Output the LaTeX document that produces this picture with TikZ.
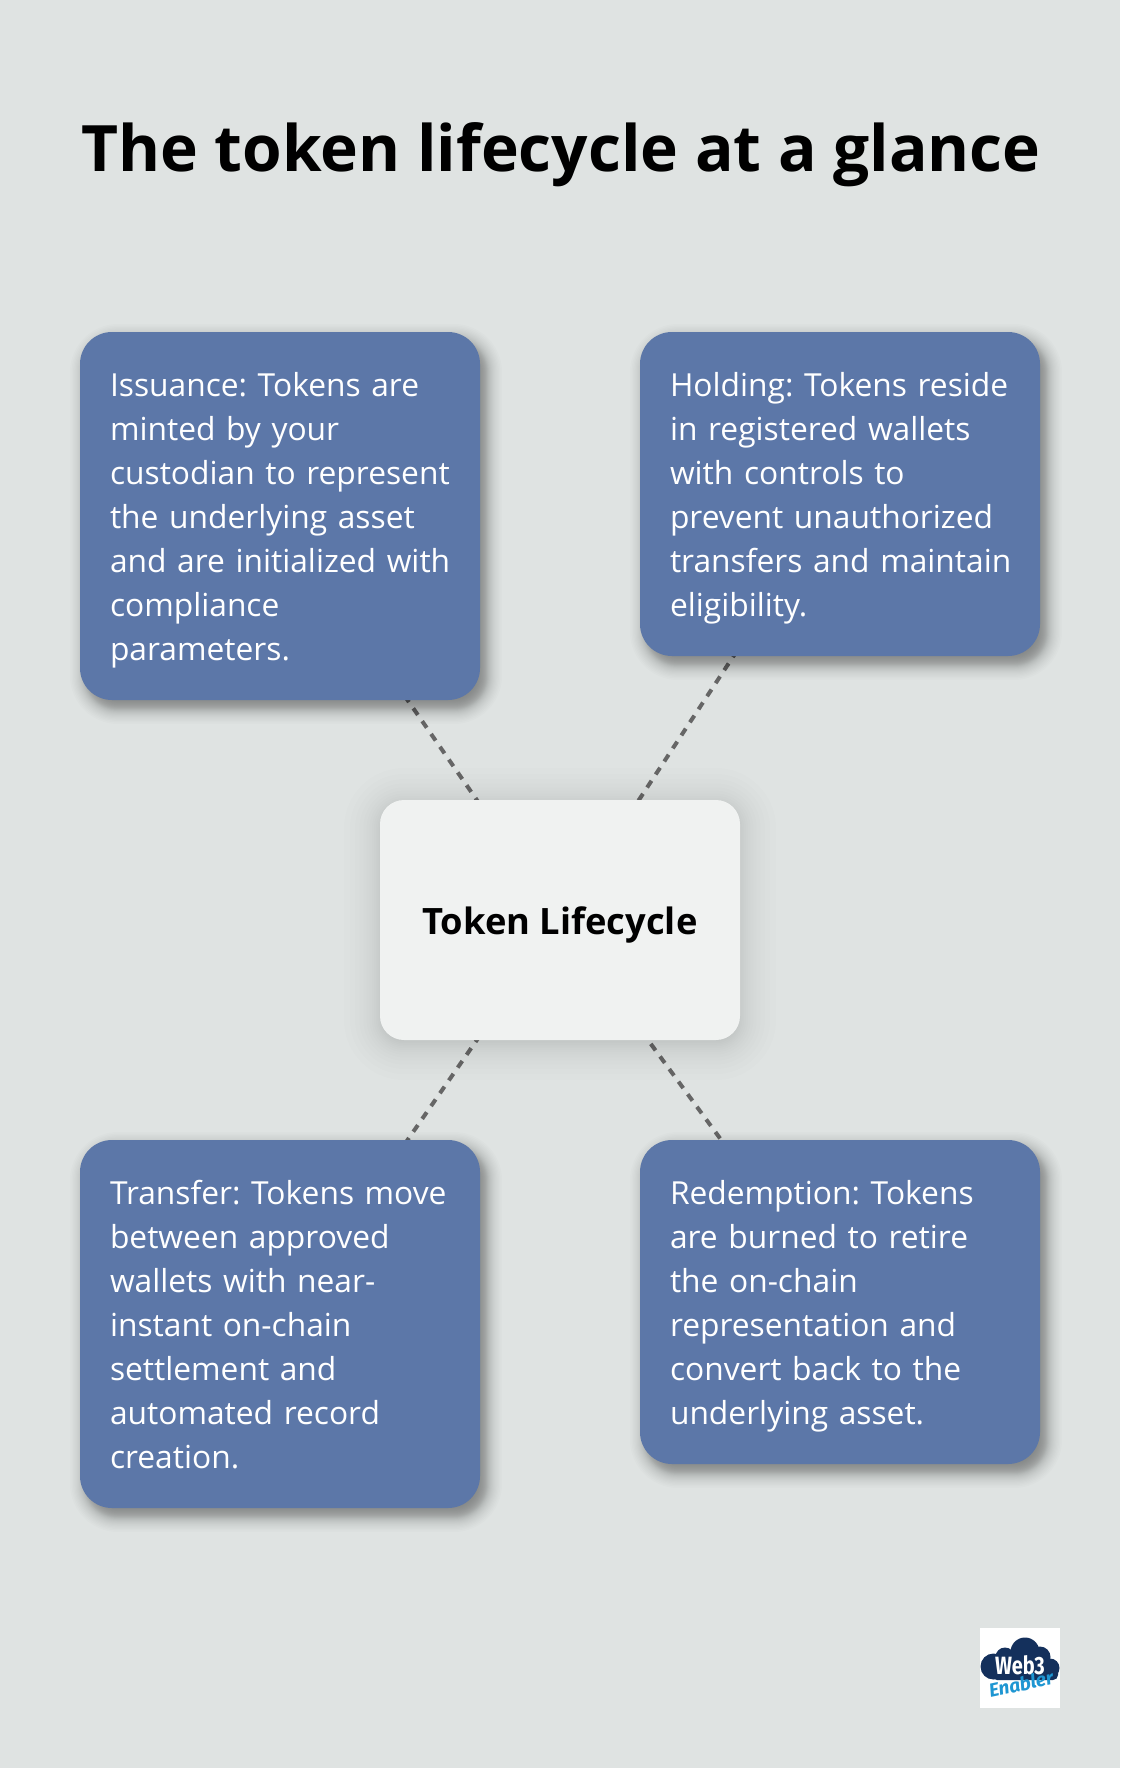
\documentclass[tikz,border=0pt]{standalone}
\usepackage{fontspec}
\setmainfont{Open Sans}
\usetikzlibrary{calc}
\newfontfamily\logofont{Fira Sans}
\definecolor{pagebg}{HTML}{DFE3E2}
\definecolor{bluebox}{HTML}{5C77A8}
\definecolor{centerbox}{HTML}{F0F2F1}
\definecolor{linegray}{HTML}{666666}
\definecolor{logonavy}{HTML}{14305C}
\definecolor{logoblue}{HTML}{1E96D2}
\pgfdeclarelayer{pagelayer}
\pgfdeclarelayer{linklayer}
\pgfdeclarelayer{shadowlayer}
\pgfsetlayers{pagelayer,linklayer,shadowlayer,main}
\def\shadowsteps{39}
\newcommand{\softshadow}[9]{%
  % cx cy w h r dx dy blur alpha
  \foreach \i in {0,...,\shadowsteps}{%
    \pgfmathsetmacro{\tt}{-1+2*\i/\shadowsteps}%
    \pgfmathsetmacro{\ee}{#8*(0.5*\tt+0.5*\tt*\tt*\tt)}%
    \pgfmathsetmacro{\rr}{max(#5+\ee,1)}%
    \fill[black,opacity=#9,rounded corners=\rr pt]
      ({#1+#6-#3/2-\ee},{#2+#7-#4/2-\ee}) rectangle ({#1+#6+#3/2+\ee},{#2+#7+#4/2+\ee});
  }%
}
\newcommand{\boxtext}[1]{\rightskip=-40pt plus 1fil\relax\hyphenpenalty=10000\relax\frenchspacing\rule{0pt}{32pt}#1\rule[-8pt]{0pt}{8pt}}
\tikzset{
  infobox/.style={fill=bluebox,rounded corners=32pt,text=white,align=left,
    text width=340pt,inner xsep=30pt,inner ysep=0pt,minimum width=400pt,
    font=\fontsize{31.75}{44}\selectfont},
  hubbox/.style={fill=centerbox,rounded corners=24pt,text=black,align=center,
    minimum width=360pt,minimum height=240pt,inner sep=0pt,
    font=\bfseries\fontsize{36.3}{44}\selectfont},
  link/.style={draw=linegray,line width=4pt,dash pattern=on 8pt off 7.6pt},
  titletext/.style={text=black,font=\bfseries\fontsize{64}{76}\selectfont,inner sep=0pt},
}
\begin{document}
\begin{tikzpicture}[x=1pt,y=-1pt]
\useasboundingbox (0,0) rectangle (1120,1768);
\begin{pgfonlayer}{pagelayer}
\fill[pagebg] (0,0) rectangle (1120,1768);
\end{pgfonlayer}

\node[titletext] (title) at (561,155) {The token lifecycle at a glance};

\node[infobox,minimum height=368pt] (issuance) at (280,516) {\boxtext{Issuance: Tokens are\\minted by your\\custodian to represent\\the underlying asset\\and are initialized with\\compliance\\parameters.}};
\node[infobox,minimum height=324pt] (holding) at (840,494) {\boxtext{Holding: Tokens reside\\in registered wallets\\with controls to\\prevent unauthorized\\transfers and maintain\\eligibility.}};
\node[infobox,minimum height=368pt] (transfer) at (280,1324) {\boxtext{Transfer: Tokens move\\between approved\\wallets with near-\\instant on-chain\\settlement and\\automated record\\creation.}};
\node[infobox,minimum height=324pt] (redemption) at (840,1302) {\boxtext{Redemption: Tokens\\are burned to retire\\the on-chain\\representation and\\convert back to the\\underlying asset.}};
\node[hubbox] (hub) at (560,920) {\raisebox{-14pt}[0pt][0pt]{Token Lifecycle}};

\begin{pgfonlayer}{linklayer}
  \draw[link] (issuance.center) -- (hub.center);
  \draw[link] (holding.center) -- (hub.center);
  \draw[link] (transfer.center) -- (hub.center);
  \draw[link] (redemption.center) -- (hub.center);
\end{pgfonlayer}

\begin{pgfonlayer}{shadowlayer}
  \softshadow{280}{516}{400}{368}{32}{6}{8}{16}{0.011}
  \softshadow{840}{494}{400}{324}{32}{6}{8}{16}{0.011}
  \softshadow{280}{1324}{400}{368}{32}{6}{8}{16}{0.011}
  \softshadow{840}{1302}{400}{324}{32}{6}{8}{16}{0.011}
  \def\shadowsteps{23}
  \softshadow{560}{920}{360}{240}{24}{0}{4}{36}{0.009}
\end{pgfonlayer}

% logo
\fill[white] (980,1628) rectangle (1060,1708);
\fill[logonavy] (993.5,1666.5) circle[radius=13];
\fill[logonavy] (1025,1652) circle[radius=14.5];
\fill[logonavy] (1005,1657) circle[radius=9.5];
\fill[logonavy] (1040,1657) circle[radius=10.5];
\fill[logonavy] (1050,1668) circle[radius=9.5];
\fill[logonavy,rounded corners=5pt] (992,1660) rectangle (1058,1680);
\node[text=white,inner sep=0pt,font=\logofont\bfseries\fontsize{25}{25}\selectfont,xscale=0.8] (webtext) at (1020,1665) {Web3};
\node[text=logoblue,inner sep=0pt,font=\logofont\bfseries\itshape\fontsize{19}{19}\selectfont,rotate=12] (entext) at (1021,1684) {Enabler};
\end{tikzpicture}
\end{document}
